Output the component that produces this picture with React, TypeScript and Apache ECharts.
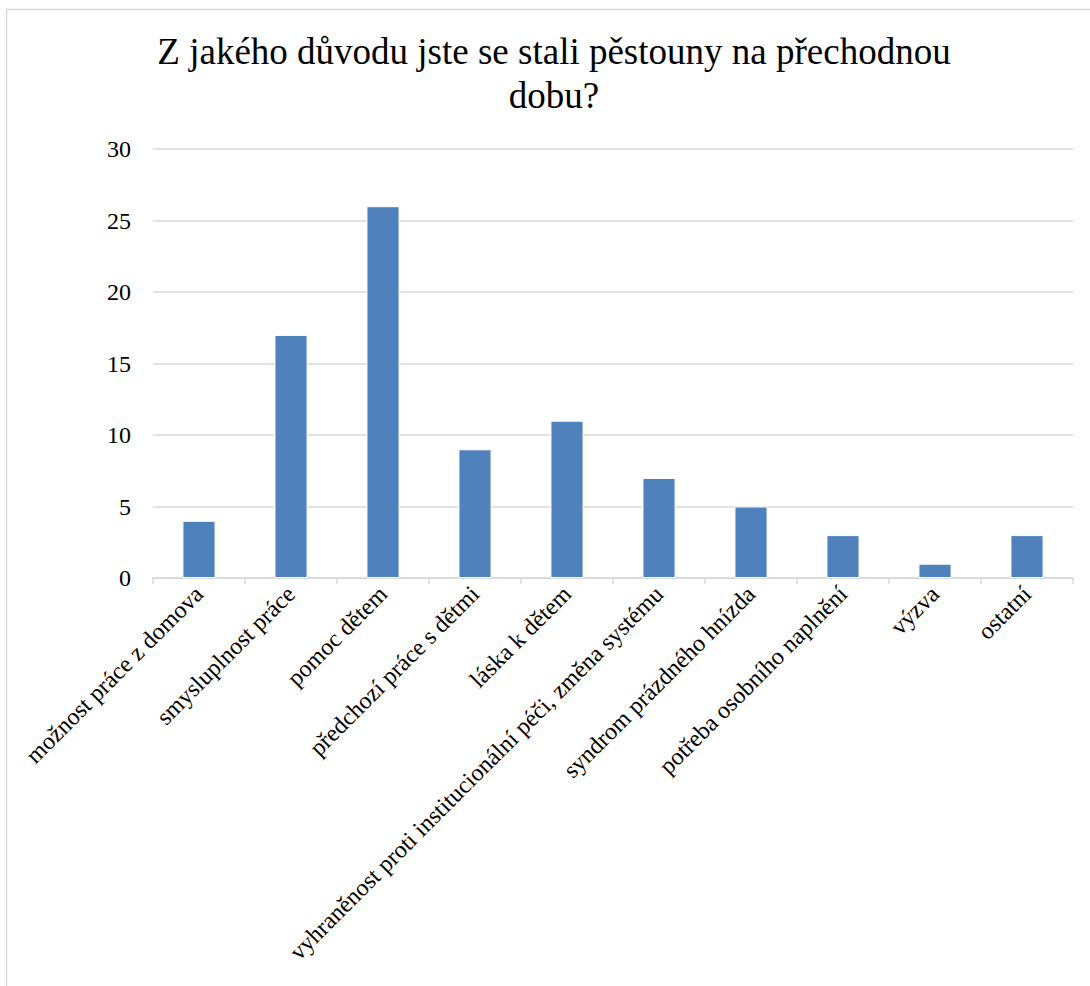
import React, { useEffect, useRef } from "react";
import * as echarts from "echarts";

const categories = [
  "možnost práce z domova",
  "smysluplnost práce",
  "pomoc dětem",
  "předchozí práce s dětmi",
  "láska k dětem",
  "vyhraněnost proti institucionální péči, změna systému",
  "syndrom prázdného hnízda",
  "potřeba osobního naplnění",
  "výzva",
  "ostatní",
];
const values = [4, 17, 26, 9, 11, 7, 5, 3, 1, 3];
const titleLines = ["Z jakého důvodu jste se stali pěstouny na přechodnou", "dobu?"];

export default function App() {
  const ref = useRef<HTMLDivElement>(null);
  useEffect(() => {
    if (!ref.current) return;
    const chart = echarts.init(ref.current, undefined, { renderer: "svg" });
    const font = "Liberation Serif";
    chart.setOption({
      animation: false,
      backgroundColor: "#ffffff",
      graphic: [
        {
          type: "rect",
          shape: { x: 6.5, y: 9.5, width: 1200, height: 1100 },
          style: { fill: "none", stroke: "#d9d9d9", lineWidth: 1.5 },
          silent: true,
        },
        ...titleLines.map((t, i) => ({
          type: "text",
          x: 554,
          y: 51 + i * 44,
          style: {
            text: t,
            font: "37px 'Liberation Serif'",
            fill: "#000",
            align: "center",
            verticalAlign: "middle",
          },
        })),
      ],
      grid: { left: 153, right: 17, top: 149, bottom: 408, containLabel: false },
      xAxis: {
        type: "category",
        data: categories,
        axisLine: { lineStyle: { color: "#d9d9d9", width: 1.5 } },
        axisTick: { show: true, length: 6, lineStyle: { color: "#d9d9d9", width: 1.5 } },
        axisLabel: {
          interval: 0,
          rotate: 45,
          fontFamily: font,
          fontSize: 24,
          color: "#000",
          margin: 12,
        },
      },
      yAxis: {
        type: "value",
        min: 0,
        max: 30,
        interval: 5,
        axisLine: { show: false },
        axisTick: { show: false },
        splitLine: { lineStyle: { color: "#d9d9d9", width: 1.5 } },
        axisLabel: { fontFamily: font, fontSize: 24, color: "#000", margin: 22 },
      },
      series: [
        {
          type: "bar",
          data: values,
          barWidth: "36%",
          itemStyle: { color: "#4f81bd", borderColor: "#ffffff", borderWidth: 1 },
        },
      ],
    });
    return () => chart.dispose();
  }, []);
  return (
    <div
      ref={ref}
      style={{ position: "absolute", left: 0, top: 0, width: 1090, height: 986 }}
    />
  );
}
